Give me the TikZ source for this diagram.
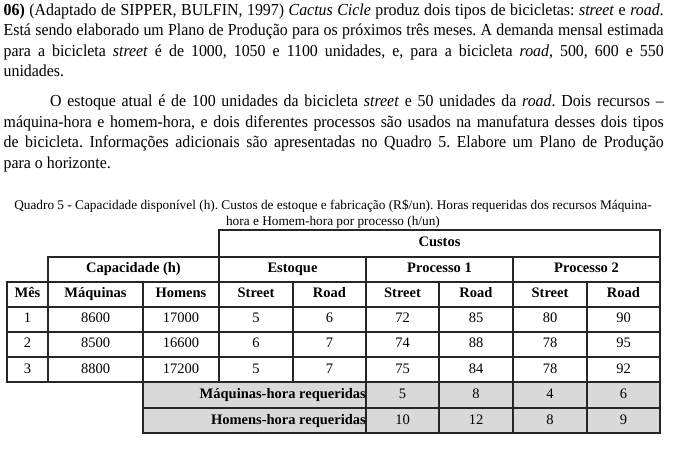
\documentclass[tikz,border=0pt]{standalone}
\usepackage{fontspec}
\setmainfont{Liberation Serif}
\newfontfamily\narrowserif{Liberation Serif}[FakeStretch=0.945]
\frenchspacing
\tikzset{cell/.style={inner sep=0pt, text height=10pt, text depth=3pt,
    font=\fontsize{14.5}{16}\selectfont},
  head/.style={cell, font=\fontsize{14.5}{16}\selectfont\bfseries},
  rule/.style={line width=1.2pt, black!85, line cap=rect},
  texto/.style={anchor=base west, inner sep=0pt, text width=660pt, align=justify,
    font=\narrowserif\fontsize{16.8}{20.5}\selectfont}}

\begin{document}
\begin{tikzpicture}[x=1pt,y=-1pt]
  \useasboundingbox (0,0) rectangle (680,462);
  % enunciado
  \node[texto] (par1) at (3.5,15.5) {\textbf{06)} (Adaptado de SIPPER, BULFIN, 1997) \textit{Cactus Cicle} produz dois tipos de bicicletas: \textit{street} e \textit{road}.\linebreak
    Está sendo elaborado um Plano de Produção para os próximos três meses. A demanda mensal estimada\linebreak
    para a bicicleta \textit{street} é de 1000, 1050 e 1100 unidades, e, para a bicicleta \textit{road}, 500, 600 e 550\linebreak
    unidades.};
  \node[texto] (par2) at (3.5,107) {\hspace*{46.5pt}O estoque atual é de 100 unidades da bicicleta \textit{street} e 50 unidades da \textit{road}. Dois recursos –\linebreak
    máquina-hora e homem-hora, e dois diferentes processos são usados na manufatura desses dois tipos\linebreak
    de bicicleta. Informações adicionais são apresentadas no Quadro 5. Elabore um Plano de Produção\linebreak
    para o horizonte.};
  \node[anchor=base, inner sep=0pt, align=center, font=\fontsize{13.3}{16}\selectfont] (legenda) at (333,225.5)
    {Quadro 5 - Capacidade disponível (h). Custos de estoque e fabricação (R\$/un). Horas requeridas dos recursos Máquina-\\
     hora e Homem-hora por processo (h/un)};

  % quadro
  \fill[black!15] (143,382) rectangle (660,433);
  \foreach \y/\a/\b in {230/219/660, 257/48/660, 282/7/660, 307/7/660, 332/7/660,
      357/7/660, 382/7/660, 408/143/660, 433/143/660}
    \draw[rule] (\a,\y) -- (\b,\y);
  \foreach \x/\a/\b in {7/282/382, 48/257/382, 143/282/433, 219/230/382, 293/282/382,
      366/257/433, 439/282/433, 513/257/433, 587/282/433, 660/230/433}
    \draw[rule] (\x,\a) -- (\x,\b);

  \node[head] (custos) at (439.5,243.5) {Custos};
  \node[head] (capac) at (133.5,269.5) {Capacidade (h)};
  \node[head] (estoque) at (292.5,269.5) {Estoque};
  \node[head] (proc1) at (439.5,269.5) {Processo 1};
  \node[head] (proc2) at (586.5,269.5) {Processo 2};
  \node[head] (mes) at (27.5,294.5) {Mês};
  \node[head] (maq) at (95.5,294.5) {Máquinas};
  \node[head] (hom) at (181,294.5) {Homens};
  \node[head] (es) at (256,294.5) {Street};
  \node[head] (er) at (329.5,294.5) {Road};
  \node[head] (p1s) at (402.5,294.5) {Street};
  \node[head] (p1r) at (476,294.5) {Road};
  \node[head] (p2s) at (550,294.5) {Street};
  \node[head] (p2r) at (623.5,294.5) {Road};

  \foreach \r/\y/\a/\b/\c/\d/\e/\f/\g/\h in {1/319.5/8600/17000/5/6/72/85/80/90,
      2/344.5/8500/16600/6/7/74/88/78/95, 3/369.5/8800/17200/5/7/75/84/78/92} {
    \node[cell] (mes\r) at (27.5,\y) {\r};
    \node[cell] (maq\r) at (95.5,\y) {\a};
    \node[cell] (hom\r) at (181,\y) {\b};
    \node[cell] (es\r) at (256,\y) {\c};
    \node[cell] (er\r) at (329.5,\y) {\d};
    \node[cell] (p1s\r) at (402.5,\y) {\e};
    \node[cell] (p1r\r) at (476,\y) {\f};
    \node[cell] (p2s\r) at (550,\y) {\g};
    \node[cell] (p2r\r) at (623.5,\y) {\h};
  }

  \node[head, anchor=east] (maqreq) at (366,395) {Máquinas-hora requeridas};
  \node[head, anchor=east] (homreq) at (366,420.5) {Homens-hora requeridas};
  \foreach \n/\y/\e/\f/\g/\h in {maqreq/395/5/8/4/6, homreq/420.5/10/12/8/9} {
    \node[cell] (\n1) at (402.5,\y) {\e};
    \node[cell] (\n2) at (476,\y) {\f};
    \node[cell] (\n3) at (550,\y) {\g};
    \node[cell] (\n4) at (623.5,\y) {\h};
  }
\end{tikzpicture}
\end{document}
